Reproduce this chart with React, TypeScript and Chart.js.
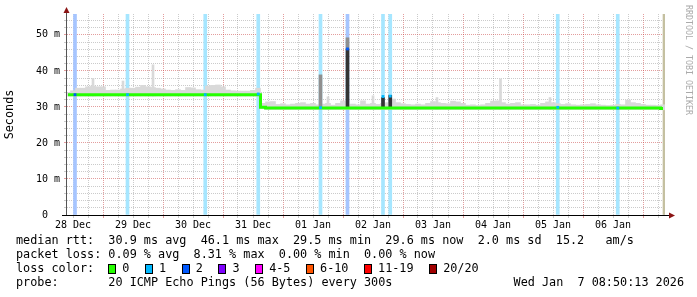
import React, { useEffect, useRef } from 'react';
import { Chart, registerables } from 'chart.js';

Chart.register(...registerables);

// ---- axis ranges (hours after 28 Dec 00:00, milliseconds) ----
const X_MIN = 9.6;
const X_MAX = 248.8;
const Y_MAX = 55.8;

const dayLabels = ['28 Dec', '29 Dec', '30 Dec', '31 Dec', '01 Jan', '02 Jan', '03 Jan', '04 Jan', '05 Jan', '06 Jan'];
const firstLabelHour = 12;
const gridStepHours = 6;
const yGridStep = 2;

// ---- series: 2-hour samples starting at hour 10 ----
const smokeStartHour = 10;
const smokeStepHours = 2;

const medianRtt = [
  33.4, 33.4, 33.4, 33.4, 33.4, 33.4, 33.4, 33.4, 33.4, 33.4,
  33.4, 33.4, 33.4, 33.4, 33.4, 33.4, 33.4, 33.4, 33.4, 33.4,
  33.4, 33.4, 33.4, 33.4, 33.4, 33.4, 33.4, 33.4, 33.4, 33.4,
  33.4, 33.4, 33.4, 33.4, 33.4, 33.4, 33.4, 33.4, 33.4, 29.9,
  29.7, 29.7, 29.7, 29.7, 29.7, 29.7, 29.7, 29.7, 29.7, 29.7,
  29.7, 29.7, 29.7, 29.7, 29.7, 29.7, 29.7, 29.7, 29.7, 29.7,
  29.7, 29.7, 29.7, 29.7, 29.7, 29.7, 29.7, 29.7, 29.7, 29.7,
  29.7, 29.7, 29.7, 29.7, 29.7, 29.7, 29.7, 29.7, 29.7, 29.7,
  29.7, 29.7, 29.7, 29.7, 29.7, 29.7, 29.7, 29.7, 29.7, 29.7,
  29.7, 29.7, 29.7, 29.7, 29.7, 29.7, 29.7, 29.7, 29.7, 29.7,
  29.7, 29.7, 29.7, 29.7, 29.7, 29.7, 29.7, 29.7, 29.7, 29.7,
  29.7, 29.7, 29.7, 29.7, 29.7, 29.7, 29.7, 29.7, 29.7, 29.6,
];

const smokeTop = [
  34.0, 34.5, 35.2, 35.2, 35.6, 35.8, 35.6, 35.6, 34.6, 34.7,
  34.7, 35.0, 35.2, 35.2, 35.5, 36.0, 35.6, 35.4, 35.2, 35.0,
  34.7, 34.6, 34.8, 34.6, 35.4, 35.3, 34.8, 34.7, 35.8, 36.0,
  36.1, 35.6, 34.7, 34.5, 34.4, 34.4, 34.4, 34.6, 35.2, 31.0,
  31.4, 31.5, 30.7, 30.9, 30.6, 30.8, 31.0, 31.2, 30.8, 31.0,
  30.6, 30.8, 31.0, 30.5, 31.0, 31.7, 30.6, 30.8, 30.6, 31.7,
  30.8, 31.0, 30.7, 31.0, 31.2, 32.2, 31.2, 30.9, 30.7, 30.6,
  30.8, 30.6, 31.0, 31.5, 31.2, 31.0, 30.9, 31.6, 31.4, 31.0,
  30.5, 30.6, 30.4, 30.6, 31.0, 31.6, 31.7, 31.2, 30.8, 31.0,
  31.2, 30.6, 30.6, 30.7, 30.5, 31.0, 31.4, 31.2, 30.9, 30.7,
  30.9, 30.6, 30.5, 30.6, 30.7, 30.9, 30.6, 30.5, 30.4, 30.5,
  30.7, 30.6, 31.9, 31.2, 31.0, 30.7, 30.5, 30.5, 30.4, 30.6,
];

// narrow smoke spikes
const spikeHours = [20, 32, 44, 114, 132, 157.6, 183, 202.8];
const spikeTops = [37.9, 37.2, 41.7, 32.8, 33.1, 32.6, 37.8, 32.6];

// denser (darker) smoke at lossy samples
const greyHours = [111, 121.8];
const greyLow = [29.7, 46.1];
const greyHigh = [38.9, 49.2];
const denseHours = [121.8, 136, 138.9];
const denseLow = [29.7, 29.7, 29.7];
const denseHigh = [46.1, 32.6, 33.2];

// packet loss events
const lossHours = [12.8, 33.8, 64.9, 86.1, 111, 121.8, 136, 138.9, 205.9, 229.9];
const lossPings = [2, 1, 1, 1, 1, 2, 1, 1, 1, 1];
const lossMedian = [33.4, 33.4, 33.4, 33.6, 29.8, 46.1, 32.9, 33.0, 29.9, 29.7];

const unknownHours = [248.4];

// ---- legend texts ----
const rttStats = ['30.9 ms avg', '46.1 ms max', '29.5 ms min', '29.6 ms now', '2.0 ms sd'];
const amsValue = '15.2';
const lossStats = ['0.09 % avg', '8.31 % max', '0.00 % min', '0.00 % now'];
const lossLabels = ['0', '1', '2', '3', '4-5', '6-10', '11-19', '20/20'];
const lossColors = ['#26ff00', '#00b8ff', '#0059ff', '#7e00ff', '#ff00ff', '#ff5500', '#ff0000', '#a10000'];
const probeText = '20 ICMP Echo Pings (56 Bytes) every 300s';
const dateText = 'Wed Jan  7 08:50:13 2026';
const creditText = 'RRDTOOL / TOBI OETIKER';

// ---- helpers ----
const MONO = "'DejaVu Sans Mono', monospace";
const MAJOR = 'rgba(200,60,60,0.5)';
const MINOR = 'rgba(140,140,140,0.45)';

function lossLevel(n: number): number {
  if (n <= 3) return n;
  if (n <= 5) return 4;
  if (n <= 10) return 5;
  if (n <= 19) return 6;
  return 7;
}
function tint(hex: string, a: number): string {
  const v = parseInt(hex.slice(1), 16);
  const r = (v >> 16) & 255, g = (v >> 8) & 255, b = v & 255;
  const m = (c: number) => Math.round(255 - (255 - c) * a);
  return `rgb(${m(r)},${m(g)},${m(b)})`;
}
const smokeHours = medianRtt.map((_, i) => smokeStartHour + i * smokeStepHours);
function medianAt(h: number): number {
  const i = Math.max(0, Math.min(medianRtt.length - 1, Math.round((h - smokeStartHour) / smokeStepHours)));
  return medianRtt[i];
}

const overlay = {
  id: 'rrdOverlay',
  afterDraw(chart: any) {
    const { ctx, chartArea: a } = chart;
    ctx.save();
    // axes
    ctx.lineWidth = 1;
    ctx.strokeStyle = '#555';
    ctx.beginPath();
    ctx.moveTo(a.left - 0.5, a.bottom + 1);
    ctx.lineTo(a.left - 0.5, a.top - 3);
    ctx.stroke();
    ctx.strokeStyle = '#000';
    ctx.beginPath();
    ctx.moveTo(a.left - 5, a.bottom + 0.5);
    ctx.lineTo(a.right + 5, a.bottom + 0.5);
    ctx.stroke();
    ctx.fillStyle = '#8b1414';
    ctx.beginPath();
    ctx.moveTo(a.left - 0.5, a.top - 7);
    ctx.lineTo(a.left - 3.5, a.top - 1);
    ctx.lineTo(a.left + 2.5, a.top - 1);
    ctx.closePath();
    ctx.fill();
    ctx.beginPath();
    ctx.moveTo(a.right + 10, a.bottom + 0.5);
    ctx.lineTo(a.right + 4, a.bottom - 2.5);
    ctx.lineTo(a.right + 4, a.bottom + 3.5);
    ctx.closePath();
    ctx.fill();

    // credit
    ctx.save();
    ctx.translate(688, 5);
    ctx.rotate(Math.PI / 2);
    ctx.font = `8.3px ${MONO}`;
    ctx.fillStyle = '#aaaaaa';
    ctx.textAlign = 'left';
    ctx.textBaseline = 'middle';
    ctx.fillText(creditText, 0, 0);
    ctx.restore();

    // legend
    ctx.font = `11.8px ${MONO}`;
    ctx.fillStyle = '#000';
    ctx.textAlign = 'left';
    ctx.textBaseline = 'middle';
    const cw = ctx.measureText('0').width;
    const x0 = 16;
    const row1 = 'median rtt:  ' + rttStats.join('  ') + '  ' + amsValue + '   am/s';
    const row2 = 'packet loss: ' + lossStats.join('  ');
    ctx.fillText(row1, x0, 241);
    ctx.fillText(row2, x0, 255);
    ctx.fillText('loss color:', x0, 269);
    let bx = x0 + 13 * cw;
    lossLabels.forEach((lab, k) => {
      const bl = Math.round(bx);
      ctx.fillStyle = lossColors[k];
      ctx.fillRect(bl, 264, 8, 10);
      ctx.strokeStyle = '#000';
      ctx.lineWidth = 1;
      ctx.strokeRect(bl + 0.5, 264.5, 7, 9);
      ctx.fillStyle = '#000';
      ctx.fillText(lab, bx + 14, 269);
      bx = bx + 14 + lab.length * cw + 15.6;
    });
    ctx.fillText('probe:', x0, 283);
    ctx.fillText(probeText, x0 + 13 * cw, 283);
    ctx.textAlign = 'right';
    ctx.fillText(dateText, 684, 283);
    ctx.restore();
  },
};

// invisible companion x-scales (one per bar family) so bar widths are not
// squeezed by neighbouring values of other families
const ghostX = () => ({
  type: 'linear' as const,
  display: false,
  offset: false,
  min: X_MIN,
  max: X_MAX,
  grid: { display: false, offset: false },
});
const barCommon = { grouped: false, categoryPercentage: 1, barPercentage: 1, borderWidth: 0, yAxisID: 'y' };

export default function App() {
  const ref = useRef<HTMLCanvasElement>(null);
  useEffect(() => {
    document.body.style.margin = '0';
    const chart = new Chart(ref.current as HTMLCanvasElement, {
      type: 'line',
      data: {
        datasets: [
          {
            type: 'line', label: 'loss', xAxisID: 'x', yAxisID: 'y',
            data: lossHours.map((h, i) => ({ x: h, y: lossMedian[i] })),
            showLine: false, pointStyle: 'rect', pointRadius: 2, pointBorderWidth: 0,
            pointBackgroundColor: lossPings.map((n) => lossColors[lossLevel(n)]),
            order: 0,
          },
          {
            type: 'line', label: 'median', xAxisID: 'x', yAxisID: 'y',
            data: smokeHours.map((h, i) => ({ x: h, y: medianRtt[i] })),
            stepped: 'middle', borderColor: '#26ff00', borderWidth: 3, pointRadius: 0,
            order: 1,
          },
          {
            ...barCommon, type: 'bar', label: 'dense', xAxisID: 'xSpike',
            data: denseHours.map((h, i) => ({ x: h, y: [denseLow[i], denseHigh[i]] })),
            backgroundColor: '#333333', maxBarThickness: 3, order: 2,
          },
          {
            ...barCommon, type: 'bar', label: 'grey', xAxisID: 'xSpike',
            data: greyHours.map((h, i) => ({ x: h, y: [greyLow[i], greyHigh[i]] })),
            backgroundColor: '#8f8f8f', maxBarThickness: 3, order: 3,
          },
          {
            ...barCommon, type: 'bar', label: 'spikes', xAxisID: 'xSpike',
            data: spikeHours.map((h, i) => ({ x: h, y: [medianAt(h) - 0.4, spikeTops[i]] })),
            backgroundColor: '#d9d9d9', maxBarThickness: 2, order: 4,
          },
          {
            ...barCommon, type: 'bar', label: 'smoke', xAxisID: 'xSmoke',
            data: smokeHours.map((h, i) => ({ x: h, y: [medianRtt[i] - 0.4, smokeTop[i]] })),
            backgroundColor: '#d9d9d9', maxBarThickness: 6, order: 5,
          },
          {
            ...barCommon, type: 'bar', label: 'lossBg', xAxisID: 'xLoss',
            data: lossHours.map((h) => ({ x: h, y: [0, Y_MAX] })),
            backgroundColor: lossPings.map((n) => tint(lossColors[lossLevel(n)], 0.35)),
            maxBarThickness: 3, order: 6,
          },
          {
            ...barCommon, type: 'bar', label: 'unknown', xAxisID: 'xLoss',
            data: unknownHours.map((h) => ({ x: h, y: [0, Y_MAX] })),
            backgroundColor: '#c4c0a0', maxBarThickness: 2, order: 6,
          },
        ] as any,
      },
      options: {
        animation: false,
        responsive: false,
        layout: { padding: { left: 0, right: 32, top: 14, bottom: 0 } },
        plugins: { legend: { display: false }, tooltip: { enabled: false } },
        scales: {
          x: {
            type: 'linear', min: X_MIN, max: X_MAX, offset: false,
            afterBuildTicks: (s: any) => {
              const t = [];
              for (let h = firstLabelHour; h < X_MAX; h += gridStepHours) t.push({ value: h });
              s.ticks = t;
            },
            afterFit: (s: any) => { s.height = 82; },
            grid: {
              color: (c: any) => (c.tick && c.tick.value % 24 === 0 ? MAJOR : MINOR),
              lineWidth: 1, tickLength: 3, offset: false,
            },
            border: { display: false, dash: [1, 1] },
            ticks: {
              autoSkip: false, maxRotation: 0, padding: 1, color: '#000',
              font: { family: MONO, size: 10 },
              callback: (v: any) => {
                const h = Number(v);
                return (h - firstLabelHour) % 24 === 0 ? dayLabels[(h - firstLabelHour) / 24] || '' : '';
              },
            },
          },
          y: {
            type: 'linear', min: 0, max: Y_MAX, stacked: false,
            afterBuildTicks: (s: any) => {
              const t = [];
              for (let v = 0; v < Y_MAX; v += yGridStep) t.push({ value: v });
              s.ticks = t;
            },
            afterFit: (s: any) => { s.width = 67; },
            grid: {
              color: (c: any) => (c.tick && c.tick.value % 10 === 0 ? MAJOR : MINOR),
              lineWidth: 1, tickLength: 3,
            },
            border: { display: false, dash: [1, 1] },
            title: {
              display: true, text: 'Seconds', color: '#000',
              font: { family: MONO, size: 11.8 }, padding: { top: 3, bottom: 0 },
            },
            ticks: {
              autoSkip: false, padding: 4, color: '#000', font: { family: MONO, size: 10 },
              callback: (v: any) => {
                const n = Number(v);
                if (n === 0) return '0  ';
                return n % 10 === 0 ? `${n} m` : '';
              },
            },
          },
          xLoss: ghostX(),
          xSmoke: ghostX(),
          xSpike: ghostX(),
        } as any,
      },
      plugins: [overlay],
    });
    return () => chart.destroy();
  }, []);
  return <canvas ref={ref} width={697} height={297} style={{ display: 'block', width: 697, height: 297 }} />;
}
